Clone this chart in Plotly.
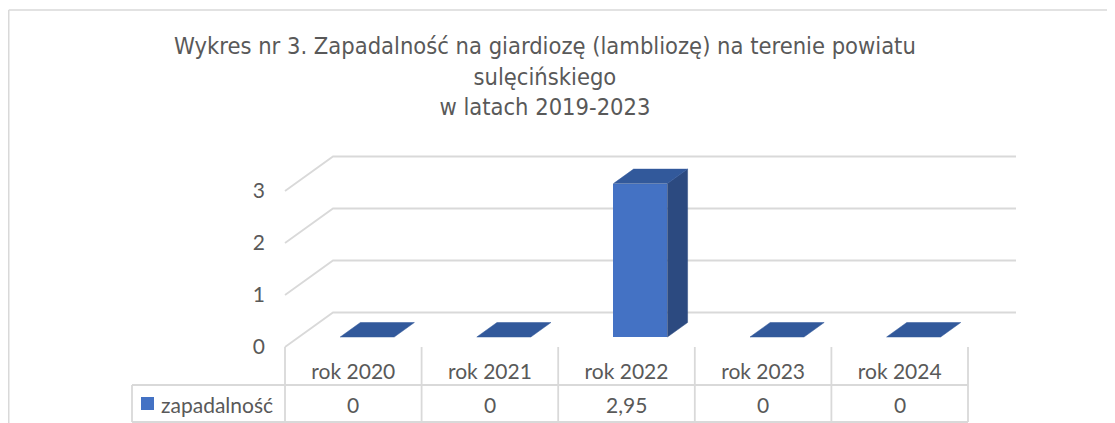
import plotly.graph_objects as go

# ---------------- data ----------------
categories = ["rok 2020", "rok 2021", "rok 2022", "rok 2023", "rok 2024"]
values = [0, 0, 2.95, 0, 0]
y_ticks = [0, 1, 2, 3]
series_name = "zapadalność"
title_lines = [
    "Wykres nr 3. Zapadalność na giardiozę (lambliozę) na terenie powiatu",
    "sulęcińskiego",
    "w latach 2019-2023",
]

# ---------------- geometry ----------------
SCREEN_W, SCREEN_H = 1115, 423
OFF = 8                         # default page body margin
W, H = SCREEN_W - OFF, SCREEN_H - OFF
X0PX, COLW = 285.0, 136.6      # left edge of category band (screen px) and column width
Y0PX, UNIT = 347.0, 52.0       # baseline of front plane (screen px) and px per value unit
DX, DY = 48.0 / COLW, 34.5 / UNIT   # depth vector of the 3D wall in data units
F1, F2 = 0.29, 0.71            # bar front/back depth fractions
BW = 54.0 / COLW               # bar width

def px2x(px):
    return (px - X0PX) / COLW - 0.5

def py2y(py):
    return (Y0PX - py) / UNIT

def fx(px):  # screen px -> paper x
    return (px - OFF) / W

def fy(py):  # screen py -> paper y
    return 1 - (py - OFF) / H

xr = [px2x(OFF), px2x(SCREEN_W)]
yr = [py2y(SCREEN_H), py2y(OFF)]

TXT = "#595959"
GRID = "#d9d9d9"
FRONT = "#4472C4"
TOP = "#32599b"
SIDE = "#2c4a80"
FONT = "Lato, Carlito, Open Sans, sans-serif"

fig = go.Figure()

n = len(categories)
xs = list(range(n))

# front faces
fig.add_trace(go.Bar(
    x=[i + F1 * DX for i in xs], y=values, base=F1 * DY, width=BW,
    marker=dict(color=FRONT, line=dict(width=0)), showlegend=False,
    hoverinfo="skip",
))

# side and top faces
for i, v in zip(xs, values):
    b1, b2 = F1 * DY, F2 * DY
    xl1, xr1 = i - BW / 2 + F1 * DX, i + BW / 2 + F1 * DX
    xl2, xr2 = i - BW / 2 + F2 * DX, i + BW / 2 + F2 * DX
    if v > 0:
        fig.add_trace(go.Scatter(
            x=[xr1, xr1, xr2, xr2, xr1], y=[b1, v + b1, v + b2, b2, b1],
            fill="toself", fillcolor=SIDE, mode="lines",
            line=dict(color=SIDE, width=0.5), showlegend=False, hoverinfo="skip"))
    fig.add_trace(go.Scatter(
        x=[xl1, xr1, xr2, xl2, xl1], y=[v + b1, v + b1, v + b2, v + b2, v + b1],
        fill="toself", fillcolor=TOP, mode="lines",
        line=dict(color=TOP, width=0.5), showlegend=False, hoverinfo="skip"))

shapes = []
# perspective gridlines
xa, xb = -0.5, n - 0.5
for t in y_ticks:
    shapes.append(dict(type="path", xref="x", yref="y", layer="below",
                       path=f"M {xa},{t} L {xa + DX},{t + DY} L {xb + DX},{t + DY}",
                       line=dict(color=GRID, width=1.8)))

# data table
y_top = 0
y_mid = py2y(385)
y_bot = py2y(422)
x_leg = px2x(132)
for k in range(n + 1):
    shapes.append(dict(type="line", xref="x", yref="y", x0=k - 0.5, x1=k - 0.5,
                       y0=y_top, y1=y_bot, line=dict(color=GRID, width=1.8)))
for yy in (y_mid, y_bot):
    shapes.append(dict(type="line", xref="x", yref="y", x0=x_leg, x1=xb,
                       y0=yy, y1=yy, line=dict(color=GRID, width=1.8)))
shapes.append(dict(type="line", xref="x", yref="y", x0=x_leg, x1=x_leg,
                   y0=y_mid, y1=y_bot, line=dict(color=GRID, width=1.8)))
# legend key
shapes.append(dict(type="rect", xref="x", yref="y",
                   x0=px2x(141), x1=px2x(154), y0=py2y(397), y1=py2y(410),
                   fillcolor=FRONT, line=dict(width=0)))
# chart border
shapes.append(dict(type="line", xref="paper", yref="paper",
                   x0=fx(8.75), x1=1, y0=fy(10), y1=fy(10),
                   line=dict(color=GRID, width=1.5)))
shapes.append(dict(type="line", xref="paper", yref="paper",
                   x0=fx(8.75), x1=fx(8.75), y0=0, y1=fy(10),
                   line=dict(color=GRID, width=1.5)))

annotations = []
y_val = py2y(404)
for i, v in zip(xs, values):
    annotations.append(dict(x=i, y=y_val, xref="x", yref="y", showarrow=False,
                            text=f"{v:g}".replace(".", ","),
                            font=dict(family=FONT, size=21, color=TXT)))
annotations.append(dict(x=px2x(159), y=y_val, xref="x", yref="y", showarrow=False,
                        xanchor="left", text=series_name,
                        font=dict(family=FONT, size=21, color=TXT)))
annotations.append(dict(x=fx(545), y=fy(76.5), xref="paper", yref="paper",
                        showarrow=False, xanchor="center", yanchor="middle",
                        text="<br>".join(title_lines),
                        font=dict(family="Liberation Sans Narrow, DejaVu Sans Condensed, Roboto",
                                  size=23.5, color=TXT)))

fig.update_layout(
    width=W, height=H, autosize=False,
    margin=dict(l=0, r=0, t=0, b=0),
    paper_bgcolor="white", plot_bgcolor="white",
    showlegend=False, bargap=0,
    shapes=shapes, annotations=annotations,
    xaxis=dict(range=xr, domain=[0, 1], anchor="free", position=fy(Y0PX),
               tickmode="array", tickvals=xs, ticktext=categories,
               showgrid=False, zeroline=False, showline=False, ticks="",
               ticklabelstandoff=10,
               tickfont=dict(family=FONT, size=21, color=TXT), fixedrange=True),
    yaxis=dict(range=yr, domain=[0, 1], anchor="free", position=fx(X0PX),
               tickmode="array", tickvals=y_ticks,
               showgrid=False, zeroline=False, showline=False, ticks="",
               ticklabelstandoff=20,
               tickfont=dict(family=FONT, size=21, color=TXT), fixedrange=True),
)

fig.write_html("out.html")
